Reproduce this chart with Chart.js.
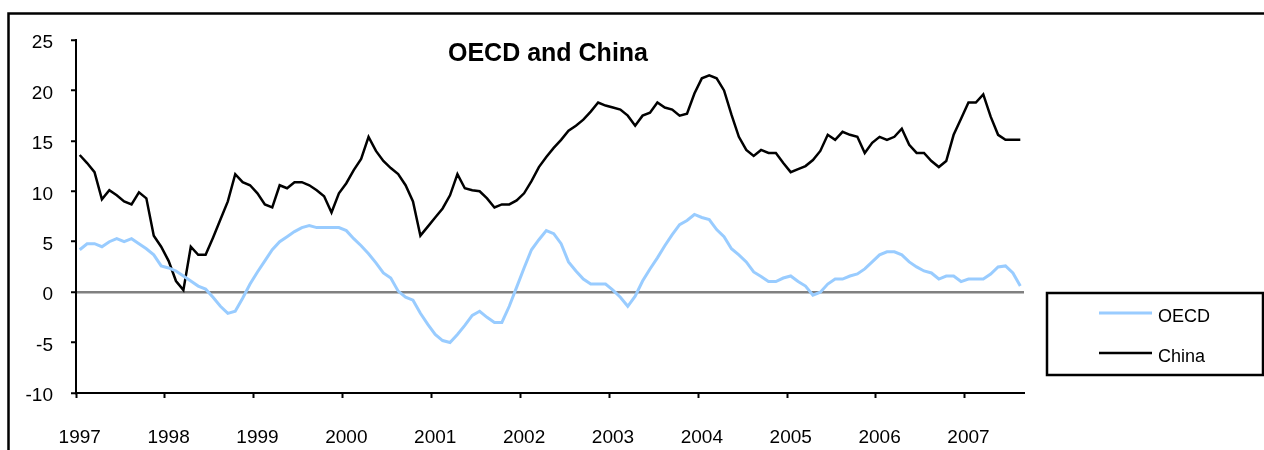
<!DOCTYPE html>
<html>
<head>
<meta charset="utf-8">
<script src="https://cdn.jsdelivr.net/npm/chart.js@4"></script>
<style>body{margin:0;background:#fff}</style>
</head>
<body>
<canvas id="chart1" width="1264" height="450"></canvas>
<script>
// monthly readings, Jan 1997 .. Aug 2007
var years = [1997, 1998, 1999, 2000, 2001, 2002, 2003, 2004, 2005, 2006, 2007];

var oecd = [
    4.2, 4.8, 4.8, 4.5, 5.0, 5.3, 5.0, 5.3, 4.8, 4.3, 3.7, 2.6,
    2.4, 2.1, 1.6, 1.1, 0.6, 0.3, -0.5, -1.4, -2.1, -1.9, -0.6, 0.8,
    2.0, 3.1, 4.2, 5.0, 5.5, 6.0, 6.4, 6.6, 6.4, 6.4, 6.4, 6.4,
    6.1, 5.3, 4.6, 3.8, 2.9, 1.9, 1.4, 0.1, -0.5, -0.8, -2.1, -3.2,
    -4.2, -4.8, -5.0, -4.2, -3.3, -2.3, -1.9, -2.5, -3.0, -3.0, -1.4, 0.5,
    2.4, 4.2, 5.2, 6.1, 5.8, 4.8, 3.0, 2.1, 1.3, 0.8, 0.8, 0.8,
    0.2, -0.5, -1.4, -0.4, 1.1, 2.3, 3.4, 4.6, 5.7, 6.7, 7.1, 7.7,
    7.4, 7.2, 6.2, 5.5, 4.3, 3.7, 3.0, 2.0, 1.55, 1.05, 1.05, 1.4,
    1.6, 1.05, 0.6, -0.3, 0.0, 0.8, 1.3, 1.3, 1.6, 1.8, 2.3, 3.0,
    3.7, 4.0, 4.0, 3.7, 3.0, 2.5, 2.1, 1.9, 1.3, 1.6, 1.6, 1.05,
    1.3, 1.3, 1.3, 1.8, 2.5, 2.6, 1.9, 0.6
];

var china = [
    13.6, 12.8, 11.9, 9.2, 10.1, 9.6, 9.0, 8.7, 9.9, 9.3, 5.6, 4.5,
    3.1, 1.1, 0.2, 4.5, 3.7, 3.7, 5.4, 7.2, 9.0, 11.7, 10.9, 10.6,
    9.8, 8.7, 8.4, 10.6, 10.3, 10.9, 10.9, 10.6, 10.1, 9.5, 7.9, 9.8,
    10.8, 12.1, 13.2, 15.4, 14.0, 13.0, 12.3, 11.7, 10.6, 9.0, 5.6, 6.5,
    7.4, 8.3, 9.6, 11.7, 10.3, 10.1, 10.0, 9.3, 8.4, 8.7, 8.7, 9.1,
    9.8, 11.0, 12.4, 13.4, 14.3, 15.1, 16.0, 16.5, 17.1, 17.9, 18.8, 18.5,
    18.3, 18.1, 17.5, 16.5, 17.5, 17.8, 18.8, 18.3, 18.1, 17.5, 17.7, 19.7,
    21.2, 21.5, 21.2, 20.0, 17.6, 15.4, 14.1, 13.5, 14.1, 13.8, 13.8, 12.8,
    11.9, 12.2, 12.5, 13.1, 14.0, 15.6, 15.1, 15.9, 15.6, 15.4, 13.8, 14.8,
    15.4, 15.1, 15.4, 16.2, 14.6, 13.8, 13.8, 13.0, 12.4, 13.0, 15.6, 17.2,
    18.8, 18.8, 19.6, 17.4, 15.6, 15.1, 15.1, 15.1
];

var months = [];
years.forEach(function (yr) {
    for (var m = 1; m <= 12; m++) {
        if (months.length < china.length) months.push(yr + '-' + (m < 10 ? '0' : '') + m);
    }
});

var font = '"Liberation Sans", Arial, sans-serif';

var extras = {
    id: 'extras',
    afterDraw: function (chart) {
        var ctx = chart.ctx;
        ctx.save();
        ctx.fillStyle = '#000';
        ctx.strokeStyle = '#000';

        // title sits inside the plot
        ctx.font = 'bold 25px ' + font;
        ctx.textAlign = 'center';
        ctx.textBaseline = 'middle';
        ctx.fillText('OECD and China', 548, 54);

        // outer frame
        ctx.lineWidth = 2.5;
        ctx.strokeRect(8.5, 13.5, 1400, 600);

        // legend box
        ctx.strokeRect(1047, 293, 216, 82);
        ctx.font = '18px ' + font;
        ctx.textAlign = 'left';
        chart.data.datasets.forEach(function (ds, i) {
            var y = 313 + i * 40;
            ctx.strokeStyle = ds.borderColor;
            ctx.lineWidth = ds.borderWidth;
            ctx.beginPath();
            ctx.moveTo(1099, y);
            ctx.lineTo(1152, y);
            ctx.stroke();
            ctx.fillText(ds.label, 1158, y + 4);
        });
        ctx.restore();
    }
};

var ctx = document.getElementById('chart1').getContext('2d');
var chart = new Chart(ctx, {
    type: 'line',
    data: {
        labels: months,
        datasets: [{
            label: 'OECD',
            data: oecd,
            borderColor: '#99CCFF',
            borderWidth: 3,
            pointRadius: 0,
            tension: 0,
            fill: false
        }, {
            label: 'China',
            data: china,
            borderColor: '#000000',
            borderWidth: 2.5,
            pointRadius: 0,
            tension: 0,
            fill: false
        }]
    },
    options: {
        responsive: false,
        animation: false,
        layout: {
            padding: { left: 0, right: 240, top: 40, bottom: 0 }
        },
        plugins: {
            legend: { display: false },
            tooltip: { enabled: false }
        },
        scales: {
            x: {
                offset: true,
                grid: {
                    offset: true,
                    drawOnChartArea: false,
                    tickLength: 5,
                    tickWidth: 2,
                    tickColor: function (c) { return c.index % 12 === 0 ? '#000' : 'rgba(0,0,0,0)'; }
                },
                border: { color: '#000', width: 2 },
                ticks: {
                    autoSkip: false,
                    maxRotation: 0,
                    minRotation: 0,
                    padding: 28,
                    color: '#000',
                    font: { family: font, size: 19 },
                    callback: function (v, i) { return i % 12 === 0 ? String(years[i / 12]) : ''; }
                },
                afterFit: function (s) { s.height = 57; }
            },
            y: {
                min: -10,
                max: 25,
                ticks: {
                    stepSize: 5,
                    padding: 18,
                    labelOffset: 3,
                    color: '#000',
                    font: { family: font, size: 19 }
                },
                grid: {
                    color: function (c) { return c.tick && c.tick.value === 0 ? '#808080' : 'rgba(0,0,0,0)'; },
                    lineWidth: 2.5,
                    tickColor: '#000',
                    tickWidth: 2,
                    tickLength: 5
                },
                border: { color: '#000', width: 2 },
                afterFit: function (s) { s.width = 76; }
            }
        }
    },
    plugins: [extras]
});
</script>
</body>
</html>
